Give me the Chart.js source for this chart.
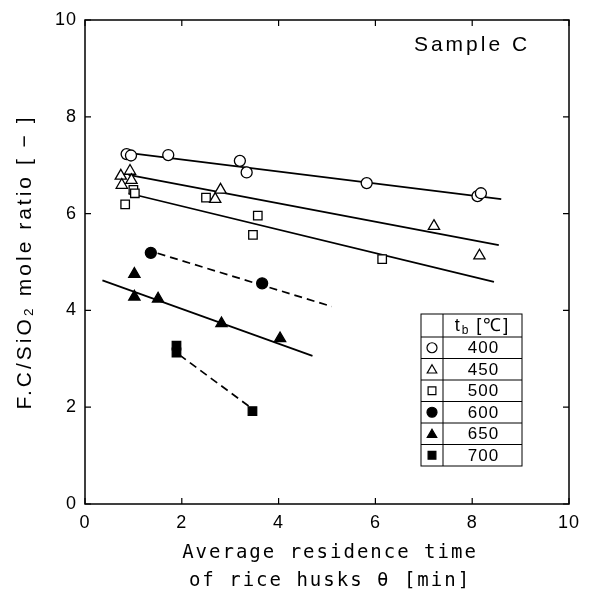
<!DOCTYPE html>
<html>
<head>
<meta charset="utf-8">
<script src="https://cdn.jsdelivr.net/npm/chart.js@4/dist/chart.umd.min.js"></script>
<style>
  html, body { margin: 0; padding: 0; background: #fff; }
</style>
</head>
<body>
<canvas id="residenceChart" width="589" height="610"></canvas>
<script>
const x400 = [0.86, 0.95, 1.72, 3.20, 3.34, 5.82, 8.11, 8.18];
const y400 = [7.23, 7.20, 7.21, 7.09, 6.85, 6.63, 6.36, 6.42];
const x450 = [0.74, 0.93, 0.96, 0.76, 2.80, 2.69, 7.21, 8.15];
const y450 = [6.78, 6.88, 6.69, 6.59, 6.49, 6.30, 5.74, 5.13];
const x500 = [1.00, 1.03, 0.83, 2.50, 3.57, 3.47, 6.14];
const y500 = [6.49, 6.42, 6.19, 6.33, 5.96, 5.56, 5.06];
const x600 = [1.36, 3.66];
const y600 = [5.19, 4.56];
const x650 = [1.02, 1.02, 1.51, 2.82, 4.03];
const y650 = [4.75, 4.28, 4.24, 3.73, 3.42];
const x700 = [1.89, 1.89, 3.46];
const y700 = [3.27, 3.13, 1.92];

// fitted lines, start and end points
const fitX400 = [0.85, 8.60], fitY400 = [7.26, 6.30];
const fitX450 = [0.90, 8.55], fitY450 = [6.80, 5.35];
const fitX500 = [0.90, 8.45], fitY500 = [6.42, 4.59];
const fitX600 = [1.50, 5.10], fitY600 = [5.18, 4.08];
const fitX650 = [0.36, 4.70], fitY650 = [4.62, 3.06];
const fitX700 = [1.95, 3.40], fitY700 = [3.08, 2.01];

const tickValues = [0, 2, 4, 6, 8, 10];
const legendTemps = ['400', '450', '500', '600', '650', '700'];
const legendShapes = ['circle', 'triangle', 'rect', 'circle', 'triangle', 'rect'];
const legendFilled = [false, false, false, true, true, true];
const sampleLabel = 'Sample C';
const xTitle = ['Average residence time', 'of rice husks \u03b8 [min]'];
const yTitle = 'F.C/SiO\u2082 mole ratio [ \u2212 ]';

function pts(xs, ys) {
    return xs.map((v, i) => ({ x: v, y: ys[i] }));
}

function markerRadius(shape) {
    if (shape === 'triangle') return 6.5;
    if (shape === 'rect') return 6;
    return 5.5;
}

function markers(xs, ys, i) {
    const shape = legendShapes[i];
    return {
        label: legendTemps[i],
        data: pts(xs, ys),
        pointStyle: shape,
        pointRadius: markerRadius(shape),
        pointBorderWidth: 1.3,
        pointBorderColor: '#000',
        pointBackgroundColor: legendFilled[i] ? '#000' : '#fff',
        showLine: false,
        order: 0
    };
}

function fitLine(xs, ys, dashed) {
    return {
        label: 'fit',
        data: pts(xs, ys),
        showLine: true,
        borderColor: '#000',
        borderWidth: 1.7,
        borderDash: dashed ? [8, 5] : [],
        pointRadius: 0,
        fill: false,
        order: 1
    };
}

// same shapes as chart.js draws them, used for the legend table
function drawShape(ctx, shape, filled, cx, cy, r) {
    ctx.beginPath();
    if (shape === 'circle') {
        ctx.arc(cx, cy, r, 0, Math.PI * 2);
    } else if (shape === 'triangle') {
        for (let k = 0; k < 3; k++) {
            const a = k * 2 * Math.PI / 3;
            const px = cx + Math.sin(a) * r, py = cy - Math.cos(a) * r;
            if (k === 0) ctx.moveTo(px, py); else ctx.lineTo(px, py);
        }
        ctx.closePath();
    } else {
        const s = r * Math.SQRT1_2;
        ctx.rect(cx - s, cy - s, 2 * s, 2 * s);
    }
    ctx.fillStyle = filled ? '#000' : '#fff';
    ctx.fill();
    ctx.stroke();
}

const framePlugin = {
    id: 'frame',
    beforeDraw(chart) {
        // the scanned figure has loosely spaced lettering
        chart.ctx.letterSpacing = '1px';
    },
    afterDraw(chart) {
        const ctx = chart.ctx;
        const a = chart.chartArea;
        const xs = chart.scales.x, ys = chart.scales.y;
        ctx.save();
        ctx.strokeStyle = '#000';
        ctx.lineWidth = 1.5;
        ctx.strokeRect(a.left, a.top, a.right - a.left, a.bottom - a.top);

        // inward ticks on all four sides
        const len = 6;
        ctx.lineWidth = 1.2;
        tickValues.forEach(v => {
            const px = xs.getPixelForValue(v);
            const py = ys.getPixelForValue(v);
            ctx.beginPath();
            ctx.moveTo(px, a.bottom); ctx.lineTo(px, a.bottom - len);
            ctx.moveTo(px, a.top); ctx.lineTo(px, a.top + len);
            ctx.moveTo(a.left, py); ctx.lineTo(a.left + len, py);
            ctx.moveTo(a.right, py); ctx.lineTo(a.right - len, py);
            ctx.stroke();
        });

        ctx.fillStyle = '#000';
        ctx.textAlign = 'center';
        ctx.textBaseline = 'middle';

        // axis titles
        ctx.letterSpacing = '2px';
        ctx.font = '19px "DejaVu Sans Mono", monospace';
        const xc = (a.left + a.right) / 2 + 3;
        ctx.fillText(xTitle[0], xc, 553);
        ctx.fillText(xTitle[1], xc, 581);

        ctx.save();
        ctx.letterSpacing = '3px';
        ctx.font = '21px "Liberation Sans", Arial, sans-serif';
        ctx.translate(25, (a.top + a.bottom) / 2);
        ctx.rotate(-Math.PI / 2);
        ctx.fillText(yTitle, 0, 0);
        ctx.restore();

        // sample name
        ctx.letterSpacing = '3px';
        ctx.font = '21px "Liberation Sans", Arial, sans-serif';
        ctx.fillText(sampleLabel, 472, 45);

        // legend table
        const left = 421, mid = 443, right = 522, top = 314, headH = 23, rowH = 21.5;
        const bottom = top + headH + rowH * legendTemps.length;
        ctx.lineWidth = 1;
        ctx.strokeRect(left, top, right - left, bottom - top);
        ctx.beginPath();
        ctx.moveTo(mid, top); ctx.lineTo(mid, bottom);
        for (let k = 0; k < legendTemps.length; k++) {
            const yy = top + headH + rowH * k;
            ctx.moveTo(left, yy); ctx.lineTo(right, yy);
        }
        ctx.stroke();

        // header: t_b [℃]
        ctx.letterSpacing = '2px';
        const hc = (mid + right) / 2, hy = top + headH / 2 + 1;
        ctx.textAlign = 'left';
        const t1 = 't', t3 = '[\u2103]';
        ctx.font = '18px "Liberation Sans", sans-serif';
        const w1 = ctx.measureText(t1).width;
        const w3 = ctx.measureText(t3).width;
        ctx.font = '12px "Liberation Sans", sans-serif';
        const w2 = ctx.measureText('b').width + 6;
        const hx = hc - (w1 + w2 + w3) / 2;
        ctx.font = '18px "Liberation Sans", sans-serif';
        ctx.fillText(t1, hx, hy);
        ctx.font = '12px "Liberation Sans", sans-serif';
        ctx.fillText('b', hx + w1, hy + 4);
        ctx.font = '18px "Liberation Sans", sans-serif';
        ctx.fillText(t3, hx + w1 + w2, hy);

        ctx.letterSpacing = '1px';
        ctx.textAlign = 'center';
        ctx.font = '17px "Liberation Sans", sans-serif';
        legendTemps.forEach((t, k) => {
            const cy = top + headH + rowH * (k + 0.5);
            ctx.fillStyle = '#000';
            ctx.fillText(t, hc + 1, cy + 1);
            ctx.lineWidth = 1.2;
            drawShape(ctx, legendShapes[k], legendFilled[k], (left + mid) / 2,
                cy + (legendShapes[k] === 'triangle' ? 1 : 0),
                legendShapes[k] === 'circle' ? 5 : 5.5);
        });
        ctx.restore();
    }
};

const ctx = document.getElementById('residenceChart').getContext('2d');
const residenceChart = new Chart(ctx, {
    type: 'scatter',
    data: {
        datasets: [
            markers(x400, y400, 0),
            markers(x450, y450, 1),
            markers(x500, y500, 2),
            markers(x600, y600, 3),
            markers(x650, y650, 4),
            markers(x700, y700, 5),
            fitLine(fitX400, fitY400, false),
            fitLine(fitX450, fitY450, false),
            fitLine(fitX500, fitY500, false),
            fitLine(fitX600, fitY600, true),
            fitLine(fitX650, fitY650, false),
            fitLine(fitX700, fitY700, true)
        ]
    },
    options: {
        responsive: false,
        animation: false,
        devicePixelRatio: 1,
        layout: { padding: { top: 20, right: 20, left: 0, bottom: 0 } },
        plugins: {
            legend: { display: false },
            tooltip: { enabled: false }
        },
        scales: {
            x: {
                type: 'linear',
                min: 0,
                max: 10,
                afterFit: function (scale) { scale.height = 106; },
                afterBuildTicks: function (scale) { scale.ticks = tickValues.map(v => ({ value: v })); },
                grid: { display: false, drawTicks: false },
                border: { display: false },
                ticks: {
                    color: '#000',
                    padding: 8,
                    font: { family: '"Liberation Sans", Arial, sans-serif', size: 18 }
                }
            },
            y: {
                type: 'linear',
                min: 0,
                max: 10,
                afterFit: function (scale) { scale.width = 85; },
                afterBuildTicks: function (scale) { scale.ticks = tickValues.map(v => ({ value: v })); },
                grid: { display: false, drawTicks: false },
                border: { display: false },
                ticks: {
                    color: '#000',
                    padding: 8,
                    font: { family: '"Liberation Sans", Arial, sans-serif', size: 18 }
                }
            }
        }
    },
    plugins: [framePlugin]
});
</script>
</body>
</html>
